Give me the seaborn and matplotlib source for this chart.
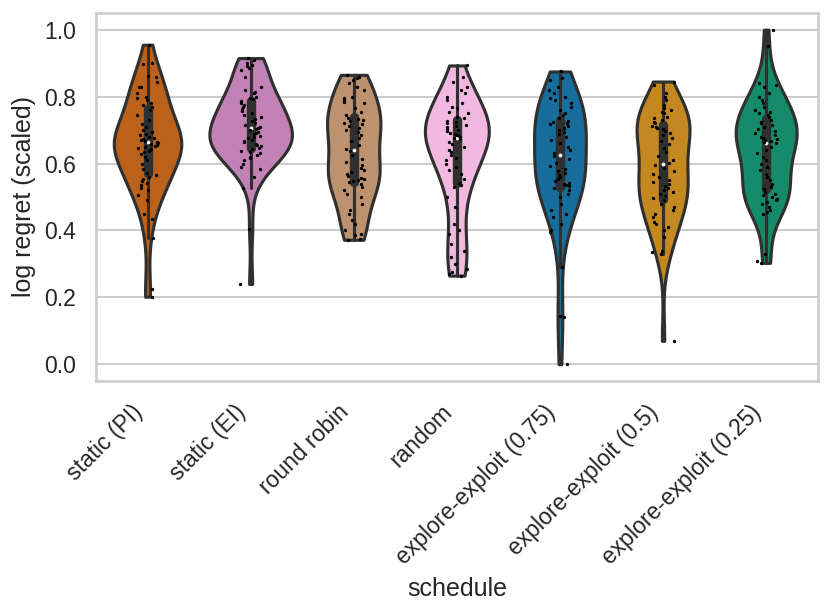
import numpy as np
import pandas as pd
import seaborn as sns
import matplotlib
matplotlib.use("Agg")
import matplotlib.pyplot as plt

sns.set_theme(style="whitegrid")
plt.rcParams['font.family'] = ['Liberation Sans', 'DejaVu Sans']

schedules = ["static (PI)", "static (EI)", "round robin", "random",
             "explore-exploit (0.75)", "explore-exploit (0.5)", "explore-exploit (0.25)"]

# values (log regret, scaled)
static_pi = [0.955, 0.90, 0.897, 0.862, 0.86, 0.845, 0.83, 0.828, 0.812, 0.80, 0.795, 0.79, 0.782, 0.775, 0.768,
             0.76, 0.745, 0.73, 0.718, 0.708, 0.70, 0.694, 0.689, 0.684, 0.68, 0.676, 0.673, 0.67, 0.667, 0.665,
             0.661, 0.658, 0.655, 0.652, 0.649, 0.646, 0.642, 0.638, 0.633, 0.627, 0.62, 0.61, 0.598, 0.585, 0.572,
             0.566, 0.56, 0.554, 0.548, 0.542, 0.535, 0.527, 0.52, 0.505, 0.49, 0.45, 0.433, 0.377, 0.225, 0.202]
static_ei = [0.915, 0.91, 0.90, 0.895, 0.89, 0.885, 0.88, 0.86, 0.83, 0.82, 0.815, 0.81, 0.80, 0.795, 0.792,
             0.786, 0.78, 0.774, 0.768, 0.762, 0.756, 0.75, 0.744, 0.738, 0.732, 0.726, 0.72, 0.715, 0.71, 0.707,
             0.703, 0.699, 0.695, 0.691, 0.687, 0.683, 0.679, 0.675, 0.671, 0.667, 0.663, 0.659, 0.655, 0.651, 0.647,
             0.642, 0.638, 0.634, 0.63, 0.625, 0.62, 0.615, 0.61, 0.60, 0.59, 0.585, 0.56, 0.527, 0.405, 0.24]
round_robin = [0.865, 0.86, 0.855, 0.85, 0.84, 0.83, 0.82, 0.80, 0.795, 0.79, 0.785, 0.78, 0.765, 0.755, 0.745,
               0.737, 0.734, 0.73, 0.726, 0.722, 0.717, 0.712, 0.706, 0.70, 0.693, 0.685, 0.676, 0.666, 0.655, 0.644,
               0.636, 0.625, 0.614, 0.604, 0.595, 0.587, 0.58, 0.574, 0.568, 0.563, 0.558, 0.554, 0.55, 0.548, 0.546,
               0.54, 0.53, 0.52, 0.51, 0.50, 0.48, 0.46, 0.45, 0.43, 0.42, 0.40, 0.39, 0.385, 0.375, 0.372]
random_sched = [0.893, 0.86, 0.845, 0.83, 0.82, 0.81, 0.80, 0.79, 0.78, 0.77, 0.765, 0.755, 0.75, 0.74, 0.735,
                0.728, 0.724, 0.72, 0.716, 0.712, 0.708, 0.704, 0.70, 0.696, 0.692, 0.689, 0.686, 0.683, 0.68, 0.677,
                0.673, 0.665, 0.657, 0.649, 0.641, 0.633, 0.625, 0.617, 0.609, 0.60, 0.59, 0.58, 0.57, 0.555, 0.543,
                0.535, 0.53, 0.50, 0.47, 0.42, 0.40, 0.39, 0.36, 0.34, 0.32, 0.30, 0.285, 0.275, 0.27, 0.265]
ee_075 = [0.875, 0.855, 0.85, 0.83, 0.82, 0.81, 0.80, 0.795, 0.79, 0.78, 0.77, 0.76, 0.75, 0.745, 0.735,
          0.728, 0.725, 0.721, 0.717, 0.712, 0.707, 0.701, 0.695, 0.688, 0.68, 0.671, 0.661, 0.65, 0.64, 0.63,
          0.622, 0.612, 0.602, 0.593, 0.585, 0.578, 0.571, 0.565, 0.559, 0.553, 0.548, 0.543, 0.539, 0.535, 0.532,
          0.527, 0.52, 0.51, 0.50, 0.48, 0.46, 0.45, 0.44, 0.42, 0.40, 0.395, 0.29, 0.145, 0.14, 0.0]
ee_05 = [0.845, 0.835, 0.81, 0.80, 0.79, 0.775, 0.765, 0.76, 0.755, 0.75, 0.74, 0.735, 0.73, 0.725, 0.72,
         0.713, 0.71, 0.706, 0.702, 0.697, 0.691, 0.684, 0.676, 0.667, 0.657, 0.646, 0.634, 0.622, 0.611, 0.602,
         0.597, 0.588, 0.578, 0.569, 0.56, 0.552, 0.545, 0.538, 0.532, 0.526, 0.52, 0.514, 0.508, 0.502, 0.497,
         0.49, 0.48, 0.47, 0.46, 0.45, 0.44, 0.425, 0.42, 0.41, 0.40, 0.38, 0.34, 0.335, 0.33, 0.07]
ee_025 = [1.0, 0.95, 0.84, 0.835, 0.83, 0.81, 0.80, 0.79, 0.78, 0.77, 0.76, 0.755, 0.75, 0.745, 0.74,
          0.73, 0.725, 0.72, 0.714, 0.708, 0.702, 0.696, 0.69, 0.685, 0.68, 0.676, 0.672, 0.669, 0.666, 0.664,
          0.66, 0.65, 0.64, 0.63, 0.62, 0.61, 0.60, 0.59, 0.58, 0.57, 0.56, 0.55, 0.54, 0.53, 0.525,
          0.515, 0.51, 0.505, 0.50, 0.495, 0.49, 0.485, 0.48, 0.47, 0.46, 0.455, 0.45, 0.33, 0.31, 0.303]

all_values = [static_pi, static_ei, round_robin, random_sched, ee_075, ee_05, ee_025]

df = pd.concat([pd.DataFrame({"schedule": name, "regret": vals})
                for name, vals in zip(schedules, all_values)], ignore_index=True)

cb = sns.color_palette("colorblind")
colors = [cb[3], cb[4], cb[5], cb[6], cb[0], cb[1], cb[2]]

fig, ax = plt.subplots(figsize=(831 / 150, 616 / 150), dpi=150)
fig.subplots_adjust(left=0.1155, right=0.984, top=0.979, bottom=0.3815)

sns.violinplot(data=df, x="schedule", y="regret", hue="schedule", order=schedules,
               hue_order=schedules, palette=colors, cut=0, linewidth=1.5,
               common_norm=True, legend=False,
               inner_kws=dict(box_width=4.5, whis_width=1.5, marker="o",
                              markersize=1.5, markeredgewidth=0.3),
               ax=ax)
np.random.seed(3)
sns.stripplot(data=df, x="schedule", y="regret", order=schedules, color="black",
              size=1.6, jitter=0.11, ax=ax)

plt.setp(ax.get_xticklabels(), rotation=45, ha="right")
ax.set_xlabel("schedule")
ax.set_ylabel("log regret (scaled)")

fig.savefig("out.png", dpi=150)
